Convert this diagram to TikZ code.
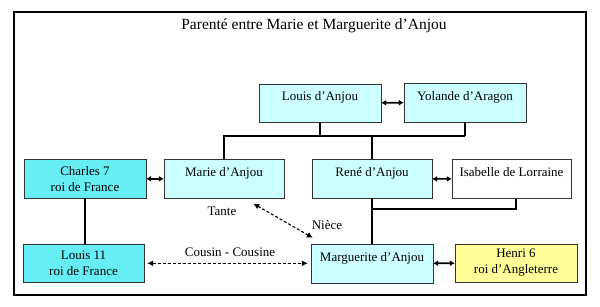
\documentclass[tikz,border=0pt]{standalone}
\usepackage{fontspec}
\setmainfont{Liberation Serif}
\usetikzlibrary{
    arrows.meta,
    positioning,
    calc
}
\definecolor{paleCyan}{HTML}{CCFFFF}
\definecolor{royalCyan}{HTML}{66EEF4}
\definecolor{paleYellow}{HTML}{FFFF99}

\begin{document}
\begin{tikzpicture}[
    x=1pt, y=-1pt,
    every node/.style={font=\fontsize{13pt}{16pt}\selectfont},
    person_box/.style={rectangle, draw=black!80, thin, fill=paleCyan, minimum width=120pt, minimum height=39pt, align=center, inner sep=2pt},
    one_line/.style={text height=9pt, text depth=13pt},
    royal_box/.style={person_box, fill=royalCyan},
    other_box/.style={person_box, fill=white},
    english_box/.style={person_box, fill=paleYellow},
    marriage/.style={line width=1.6pt, {Latex[length=5pt,width=6pt]}-{Latex[length=5pt,width=6pt]}},
    tree_line/.style={line width=2pt},
    kinship/.style={line width=1.1pt, dash pattern=on 3pt off 2pt, {Latex[length=6pt,width=6pt]}-{Latex[length=6pt,width=6pt]}},
    frame/.style={line width=2.6pt}
]
\useasboundingbox (0,0) rectangle (600,307);
\draw[frame] (14,12) rectangle (586,295);

\node[font=\fontsize{15.5pt}{18pt}\selectfont] (title) at (314,26) {Parenté entre Marie et Marguerite d’Anjou};

% parents
\node[person_box, one_line, minimum width=122pt, minimum height=38pt] (louis) at (320,103) {Louis d’Anjou};
\node[person_box, one_line, minimum width=122pt] (yolande) at (465,102.5) {Yolande d’Aragon};
\draw[marriage] (louis) -- (yolande);

% second generation
\node[royal_box, minimum width=122pt] (charles) at (85,178.8) {Charles 7\\roi de France};
\node[person_box, one_line] (marie) at (224,178.8) {Marie d’Anjou};
\node[person_box, one_line, minimum width=120pt] (rene) at (372,178.8) {René d’Anjou};
\node[other_box, one_line, minimum width=119pt] (isabelle) at (511.5,179) {Isabelle de Lorraine};
\draw[marriage] (charles) -- (marie);
\draw[marriage] (rene) -- (isabelle);

% third generation
\node[royal_box, minimum width=121pt, minimum height=38pt] (louisxi) at (83.5,263.3) {Louis 11\\roi de France};
\node[person_box, one_line, minimum width=122pt] (marguerite) at (372,263.5) {Marguerite d’Anjou};
\node[english_box, minimum width=122pt, minimum height=38pt] (henri) at (516,263) {Henri 6\\roi d’Angleterre};
\draw[marriage] (marguerite) -- (henri);

% descent lines
\coordinate (fork) at (320,136);
\draw[tree_line] (louis.south) -- (louis.south |- fork);
\draw[tree_line] (yolande.south) -- (yolande.south |- fork);
\draw[tree_line] (marie.north) -- (marie.north |- fork) -- (yolande.south |- fork);
\draw[tree_line] (rene.north) -- (rene.north |- fork);
\coordinate (fork2) at (516,209);
\draw[tree_line] (fork2 |- isabelle.south) -- (fork2) -- (rene.south |- fork2);
\draw[tree_line] (rene.south) -- (rene.south |- marguerite.north);
\draw[tree_line] (charles.south) -- (charles.south |- louisxi.north);

% kinship
\coordinate (aunt_end) at ([xshift=-31pt,yshift=-5pt]marie.south east);
\coordinate (niece_end) at ([xshift=2pt,yshift=6pt]marguerite.north west);
\draw[kinship] (aunt_end) -- (niece_end);
\node (tante) at (222,211) {Tante};
\node (niece) at (327,225) {Nièce};
\draw[kinship, shorten <=3pt, shorten >=3pt] (louisxi) -- (louisxi -| marguerite.west);
\node (cousins) at (230,252) {Cousin - Cousine};

\end{tikzpicture}
\end{document}
